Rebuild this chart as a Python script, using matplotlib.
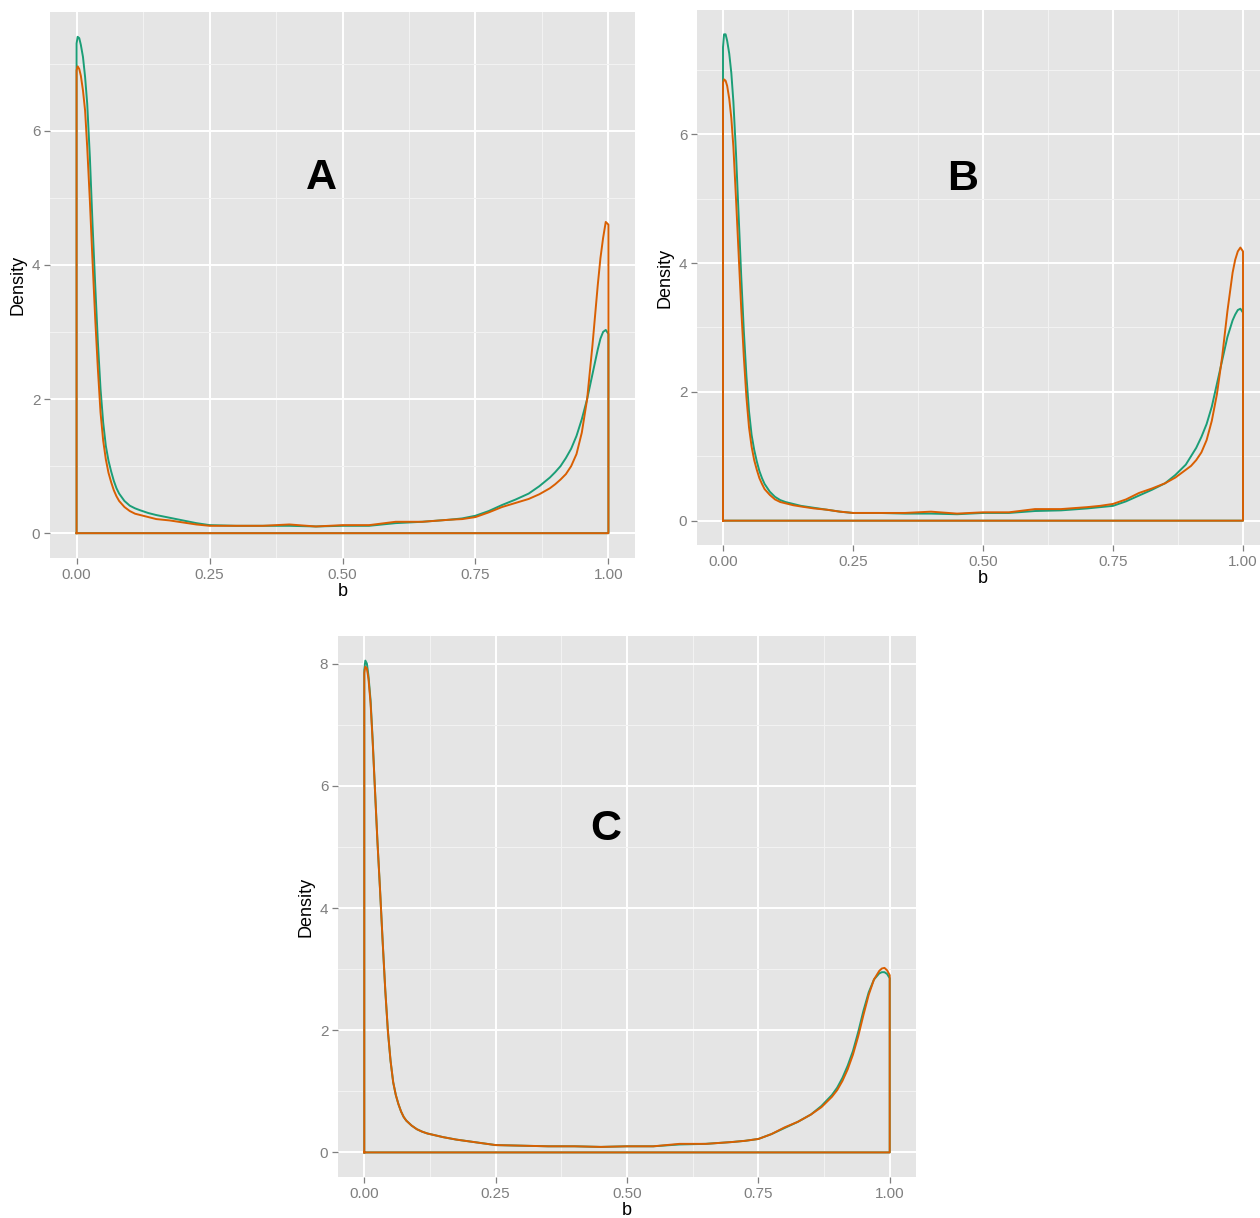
# encoding=utf-8
import matplotlib
matplotlib.use("Agg")
import numpy as np
import matplotlib.pyplot as plt

plt.rcParams['font.family'] = ['Liberation Sans', 'DejaVu Sans']

# 数据 (读取自原图)
b = [0, 0.002, 0.005, 0.008, 0.012, 0.016, 0.02, 0.025, 0.03, 0.035, 0.04, 0.045, 0.05,
     0.055, 0.06, 0.065, 0.07, 0.075, 0.08, 0.09, 0.1, 0.11, 0.12, 0.135, 0.15, 0.175,
     0.2, 0.225, 0.25, 0.3, 0.35, 0.4, 0.45, 0.5, 0.55, 0.6, 0.65, 0.7, 0.725, 0.75,
     0.775, 0.8, 0.825, 0.85, 0.87, 0.89, 0.9, 0.91, 0.92, 0.93, 0.94, 0.95, 0.96, 0.97,
     0.98, 0.985, 0.99, 0.995, 1.0]

A_green = [7.3, 7.4, 7.38, 7.28, 7.1, 6.8, 6.4, 5.6, 4.6, 3.7, 2.85, 2.15, 1.65,
           1.3, 1.08, 0.92, 0.78, 0.67, 0.59, 0.48, 0.41, 0.37, 0.34, 0.30, 0.27, 0.23,
           0.19, 0.15, 0.12, 0.11, 0.11, 0.11, 0.10, 0.11, 0.11, 0.15, 0.17, 0.20, 0.22, 0.26,
           0.33, 0.42, 0.50, 0.59, 0.70, 0.83, 0.91, 1.0, 1.12, 1.26, 1.45, 1.7, 2.0, 2.37,
           2.74, 2.9, 3.0, 3.03, 2.97]
A_orange = [6.9, 6.96, 6.92, 6.82, 6.6, 6.3, 5.75, 4.95, 4.05, 3.2, 2.45, 1.8, 1.38,
            1.1, 0.9, 0.76, 0.64, 0.55, 0.48, 0.39, 0.33, 0.29, 0.27, 0.24, 0.21, 0.19,
            0.16, 0.13, 0.11, 0.11, 0.11, 0.13, 0.10, 0.12, 0.12, 0.17, 0.17, 0.20, 0.21, 0.24,
            0.31, 0.39, 0.45, 0.51, 0.58, 0.67, 0.73, 0.8, 0.88, 1.0, 1.18, 1.5, 2.0, 2.8,
            3.7, 4.1, 4.4, 4.64, 4.6]

B_green = [7.35, 7.55, 7.55, 7.45, 7.25, 6.95, 6.5, 5.7, 4.75, 3.8, 2.95, 2.25, 1.7,
           1.33, 1.1, 0.92, 0.77, 0.66, 0.57, 0.45, 0.37, 0.32, 0.29, 0.26, 0.23, 0.20,
           0.17, 0.14, 0.12, 0.12, 0.11, 0.11, 0.10, 0.12, 0.12, 0.15, 0.16, 0.19, 0.21, 0.23,
           0.30, 0.39, 0.48, 0.58, 0.71, 0.87, 1.0, 1.13, 1.3, 1.5, 1.77, 2.13, 2.49, 2.85,
           3.11, 3.2, 3.27, 3.29, 3.23]
B_orange = [6.8, 6.85, 6.83, 6.75, 6.55, 6.25, 5.8, 5.0, 4.15, 3.3, 2.55, 1.92, 1.45,
            1.15, 0.94, 0.79, 0.66, 0.57, 0.49, 0.40, 0.33, 0.29, 0.27, 0.24, 0.22, 0.19,
            0.17, 0.14, 0.12, 0.12, 0.12, 0.14, 0.11, 0.13, 0.13, 0.18, 0.18, 0.21, 0.23, 0.26,
            0.33, 0.43, 0.50, 0.58, 0.67, 0.79, 0.85, 0.94, 1.06, 1.25, 1.55, 1.97, 2.55, 3.25,
            3.85, 4.05, 4.18, 4.24, 4.18]

C_green = [7.9, 8.05, 8.0, 7.8, 7.4, 6.75, 6.0, 5.1, 4.3, 3.45, 2.65, 1.98, 1.5,
           1.15, 0.94, 0.79, 0.67, 0.58, 0.52, 0.44, 0.38, 0.34, 0.31, 0.28, 0.25, 0.21,
           0.18, 0.15, 0.12, 0.11, 0.10, 0.10, 0.09, 0.10, 0.10, 0.13, 0.14, 0.17, 0.19, 0.22,
           0.30, 0.40, 0.50, 0.62, 0.76, 0.94, 1.06, 1.22, 1.42, 1.66, 1.97, 2.32, 2.62, 2.83,
           2.93, 2.95, 2.95, 2.92, 2.85]
C_orange = [7.85, 7.95, 7.92, 7.75, 7.35, 6.72, 6.0, 5.1, 4.3, 3.45, 2.65, 1.98, 1.5,
            1.15, 0.94, 0.79, 0.67, 0.58, 0.52, 0.44, 0.38, 0.34, 0.31, 0.28, 0.25, 0.21,
            0.18, 0.15, 0.12, 0.11, 0.10, 0.10, 0.09, 0.10, 0.10, 0.14, 0.14, 0.17, 0.19, 0.22,
            0.30, 0.41, 0.50, 0.62, 0.74, 0.91, 1.02, 1.17, 1.36, 1.6, 1.9, 2.25, 2.58, 2.83,
            2.97, 3.01, 3.02, 2.98, 2.9]

panel_names = ['A', 'B', 'C']
x_ticks = [0.0, 0.25, 0.5, 0.75, 1.0]
x_ticklabels = ['0.00', '0.25', '0.50', '0.75', '1.00']

W, H = 1260, 1218
fig = plt.figure(figsize=(W / 100, H / 100), dpi=100)

# 像素位置: left, top, right, bottom
boxes = [(50, 12, 635, 558), (697, 10, 1269, 545), (338, 636, 916, 1177)]
series = [(A_green, A_orange), (B_green, B_orange), (C_green, C_orange)]

for name, box, (g, o) in zip(panel_names, boxes, series):
    l, t, r, btm = box
    ax = fig.add_axes([l / W, (H - btm) / H, (r - l) / W, (btm - t) / H])
    ax.set_facecolor('#E5E5E5')
    for s in ax.spines.values():
        s.set_visible(False)

    ymax = max(max(g), max(o))
    ax.set_xlim(-0.05, 1.05)
    ax.set_ylim(-0.05 * ymax, 1.05 * ymax)

    y_major = np.arange(0, ymax + 0.01, 2)
    ax.set_xticks(x_ticks)
    ax.set_xticklabels(x_ticklabels)
    ax.set_yticks(y_major)
    ax.set_yticklabels(['%d' % v for v in y_major])
    ax.set_xticks([0.125, 0.375, 0.625, 0.875], minor=True)
    ax.set_yticks(np.arange(1, ymax + 0.3, 2), minor=True)
    ax.grid(True, which='minor', color='#F2F2F2', linewidth=0.8)
    ax.grid(True, which='major', color='white', linewidth=1.4)
    ax.set_axisbelow(True)
    ax.tick_params(which='major', colors='#7F7F7F', labelsize=11, length=4, width=0.9, pad=3)
    ax.tick_params(which='minor', length=0)

    # 密度曲线轮廓 (含底边与两侧竖边)
    for yy, col in ((g, '#1B9E77'), (o, '#D95F02')):
        xs = [0] + b + [1, 0]
        ys = [0] + yy + [0, 0]
        ax.plot(xs, ys, color=col, linewidth=1.4, solid_joinstyle='round')

    ax.set_xlabel('b', fontsize=13, labelpad=1)
    ax.set_ylabel('Density', fontsize=13, labelpad=4)
    ax.text(0.46, 5.3, name, fontsize=31, fontweight='bold', ha='center', va='center')

fig.savefig('out.png', dpi=100)
